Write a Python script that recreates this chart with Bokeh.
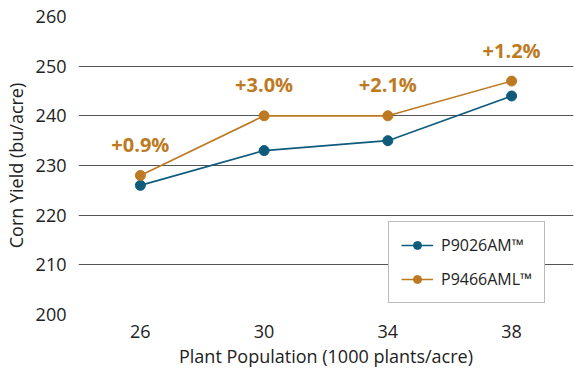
from bokeh.plotting import figure
from bokeh.models import ColumnDataSource, Legend, LegendItem, Range1d, SingleIntervalTicker
from bokeh.embed import file_html
from bokeh.resources import INLINE
from bokeh.core.properties import value

populations = ["26", "30", "34", "38"]
p9026 = [226, 233, 235, 244]
p9466 = [228, 240, 240, 247]
gains = ["+0.9%", "+3.0%", "+2.1%", "+1.2%"]
names = ["P9026AM™", "P9466AML™"]

BLUE = "#0e5b7c"
ORANGE = "#bd7a22"
FONT = "Open Sans"

p = figure(width=575, height=373, x_range=populations, y_range=Range1d(200, 260),
           output_backend="svg", toolbar_location=None,
           min_border_left=77, min_border_top=16, min_border_right=2, min_border_bottom=59)
p.outline_line_color = None
p.background_fill_color = "white"

src = ColumnDataSource(dict(x=populations, a=p9026, b=p9466, t=gains))

la = p.line("x", "a", source=src, color=BLUE, line_width=1.6)
ca = p.scatter("x", "a", source=src, size=10, color=BLUE)
lb = p.line("x", "b", source=src, color=ORANGE, line_width=1.6)
cb = p.scatter("x", "b", source=src, size=10, color=ORANGE)

p.text("x", "b", text="t", source=src, y_offset=-31, text_align="center",
       text_baseline="middle", text_color=ORANGE, text_font=value(FONT),
       text_font_style="bold", text_font_size="20px")

p.yaxis.ticker = SingleIntervalTicker(interval=10)
for ax in (p.xaxis[0], p.yaxis[0]):
    ax.axis_line_color = None
    ax.major_tick_line_color = None
    ax.minor_tick_line_color = None
    ax.major_label_text_font = FONT
    ax.major_label_text_font_size = "18px"
    ax.major_label_text_color = "#222222"
    ax.axis_label_text_font = FONT
    ax.axis_label_text_font_size = "18px"
    ax.axis_label_text_font_style = "normal"
    ax.axis_label_text_color = "#222222"
p.yaxis.axis_label = "Corn Yield (bu/acre)"
p.xaxis.axis_label = "Plant Population (1000 plants/acre)"
p.xaxis.major_label_standoff = 4
p.xaxis.axis_label_standoff = 3
p.yaxis.major_label_standoff = 6
p.yaxis.axis_label_standoff = 5

p.xgrid.grid_line_color = None
p.ygrid.grid_line_color = "#555555"
p.ygrid.grid_line_width = 1

legend = Legend(items=[LegendItem(label=names[0], renderers=[la, ca]),
                       LegendItem(label=names[1], renderers=[lb, cb])],
                location=(310, 11))
legend.label_text_font = FONT
legend.label_text_font_size = "16px"
legend.label_text_color = "#222222"
legend.border_line_color = "#777777"
legend.border_line_width = 1
legend.glyph_width = 32
legend.glyph_height = 20
legend.spacing = 12
legend.padding = 12
legend.margin = 0
legend.label_standoff = 8
legend.background_fill_alpha = 1
p.add_layout(legend, "center")

open("out.html", "w").write(file_html(p, INLINE))
